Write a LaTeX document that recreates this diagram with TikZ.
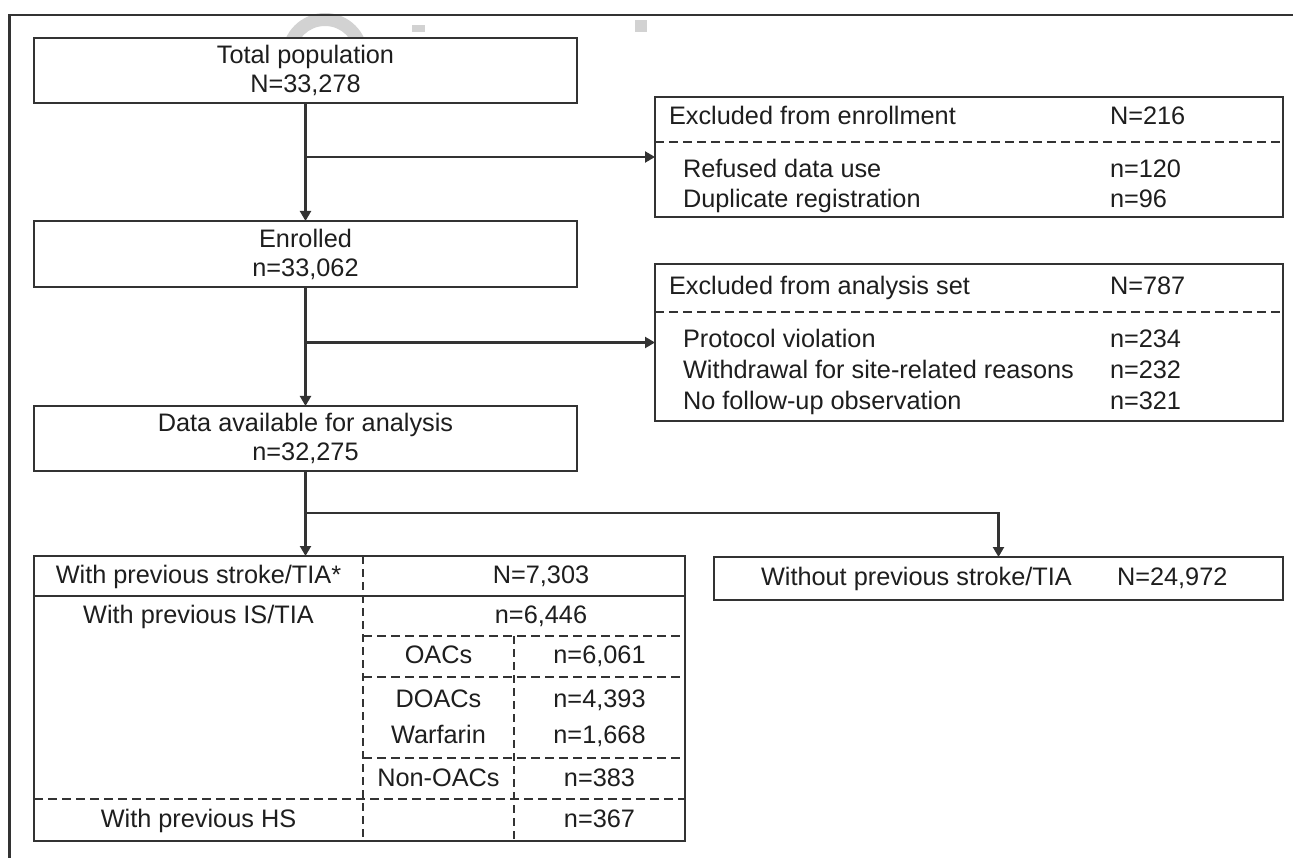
\documentclass[tikz,border=0pt]{standalone}
\usepackage{fontspec}
\setmainfont{Liberation Sans}
\usetikzlibrary{arrows.meta}
\definecolor{ln}{HTML}{333333}
\definecolor{txt}{HTML}{1E1E1E}
\definecolor{wm}{HTML}{D2D2D2}
\begin{document}
\begin{tikzpicture}[x=1pt,y=-1pt,
  font=\fontsize{25.3}{29}\selectfont,
  box/.style={draw=ln, fill=white, line width=2.1pt, rectangle, inner sep=0pt, outer sep=0pt, align=center, text=txt},
  lbl/.style={inner sep=0pt, outer sep=0pt, anchor=base west, text=txt},
  clbl/.style={inner sep=0pt, outer sep=0pt, anchor=base, text=txt},
  conn/.style={draw=ln, line width=2.1pt, -{Triangle[length=10pt,width=11pt]}},
  solidln/.style={draw=ln, line width=2.1pt},
  dsh/.style={draw=ln, line width=1.8pt, dash pattern=on 9pt off 5pt},
]
\useasboundingbox (0,0) rectangle (1293,858);
% watermark fragments
\fill[wm, even odd rule] (325,56) circle[radius=43pt] (325,56) circle[radius=30pt];
\fill[wm] (412,25) rectangle (425,32);
\fill[wm] (635,20) rectangle (647,32);
% outer frame
\draw[solidln] (9.5,858) -- (9.5,15) -- (1293,15);

% main column
\node[box, minimum width=543pt, minimum height=65pt] (total) at (305.5,70.5) {Total population\\N=33,278};
\node[box, minimum width=543pt, minimum height=66pt] (enrolled) at (305.5,254) {Enrolled\\n=33,062};
\node[box, minimum width=543pt, minimum height=65pt] (da) at (305.5,438.5) {Data available for analysis\\n=32,275};

% excluded from enrollment
\node[box, minimum width=628pt, minimum height=120pt] (excl1) at (969,157) {};
\draw[dsh] (excl1.west |- 0,142) -- (excl1.east |- 0,142);
\node[lbl] (e1h) at (669,125) {Excluded from enrollment};
\node[lbl] (e1hn) at (1110,125) {N=216};
\node[lbl] (e1a) at (683,178) {Refused data use};
\node[lbl] (e1an) at (1110,178) {n=120};
\node[lbl] (e1b) at (683,208) {Duplicate registration};
\node[lbl] (e1bn) at (1110,208) {n=96};

% excluded from analysis
\node[box, minimum width=628pt, minimum height=157pt] (excl2) at (969,342.5) {};
\draw[dsh] (excl2.west |- 0,312) -- (excl2.east |- 0,312);
\node[lbl] (e2h) at (669,295) {Excluded from analysis set};
\node[lbl] (e2hn) at (1110,295) {N=787};
\node[lbl] (e2a) at (683,348) {Protocol violation};
\node[lbl] (e2an) at (1110,348) {n=234};
\node[lbl] (e2b) at (683,379) {Withdrawal for site-related reasons};
\node[lbl] (e2bn) at (1110,379) {n=232};
\node[lbl] (e2c) at (683,409.5) {No follow-up observation};
\node[lbl] (e2cn) at (1110,409.5) {n=321};

% without previous stroke
\node[box, minimum width=569pt, minimum height=43pt] (without) at (998.5,578.5) {};
\node[lbl] (wot) at (761,585) {Without previous stroke/TIA};
\node[lbl] (won) at (1117,585) {N=24,972};

% with previous stroke table
\node[box, minimum width=651pt, minimum height=285pt] (strk) at (359.5,698.5) {};
\draw[solidln] (strk.west |- 0,596) -- (strk.east |- 0,596);
\draw[dsh, dash pattern=on 8pt off 5pt] (363,556) -- (363,841);
\draw[dsh, dash pattern=on 8pt off 5pt] (514,636) -- (514,841);
\draw[dsh] (363,636) -- (strk.east |- 0,636);
\draw[dsh] (363,677) -- (strk.east |- 0,677);
\draw[dsh] (363,758) -- (strk.east |- 0,758);
\draw[dsh] (strk.west |- 0,799) -- (strk.east |- 0,799);
\node[clbl] (t1a) at (198.5,583) {With previous stroke/TIA*};
\node[clbl] (t1b) at (541,583) {N=7,303};
\node[clbl] (t2a) at (198.5,623) {With previous IS/TIA};
\node[clbl] (t2b) at (541,623) {n=6,446};
\node[clbl] (t3a) at (438.5,663) {OACs};
\node[clbl] (t3b) at (599.5,663) {n=6,061};
\node[clbl] (t4a) at (438.5,707) {DOACs};
\node[clbl] (t4b) at (599.5,707) {n=4,393};
\node[clbl] (t5a) at (438.5,743) {Warfarin};
\node[clbl] (t5b) at (599.5,743) {n=1,668};
\node[clbl] (t6a) at (438.5,786) {Non-OACs};
\node[clbl] (t6b) at (599.5,786) {n=383};
\node[clbl] (t7a) at (198.5,827) {With previous HS};
\node[clbl] (t7b) at (599.5,827) {n=367};

% connectors
\draw[conn] (total.south) -- (enrolled.north);
\draw[conn] (total.south |- excl1.west) -- (excl1.west);
\draw[conn] (enrolled.south) -- (da.north);
\draw[conn] (enrolled.south |- excl2.west) -- (excl2.west);
\draw[conn] (da.south) -- (da.south |- strk.north);
\coordinate (split) at (da.south |- 0,513);
\draw[conn] (split) -| (without.north);
\end{tikzpicture}
\end{document}
